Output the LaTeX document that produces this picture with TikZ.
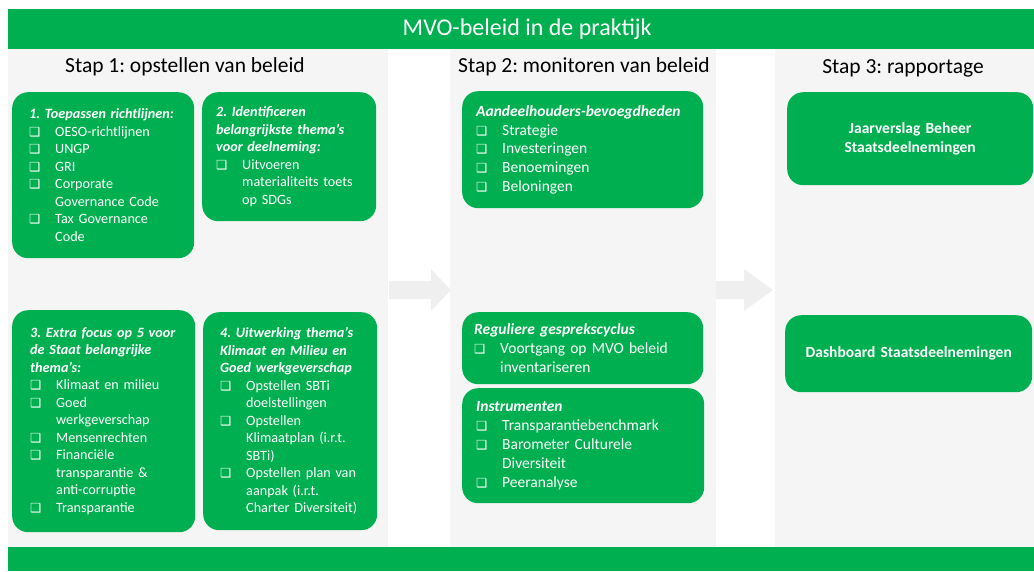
\documentclass[tikz,border=0pt]{standalone}
\usepackage{fontspec}
\setmainfont{Carlito}
\newfontfamily\symfont{DejaVu Sans}
\usetikzlibrary{positioning}
\frenchspacing

\definecolor{mvogreen}{RGB}{0,176,80}
\definecolor{panelgray}{RGB}{245,245,245}
\definecolor{arrowgray}{RGB}{239,239,239}

% item with a check box and a hanging indent
\newcommand{\chk}{\par\hangindent=26pt\hangafter=1\noindent\makebox[26pt][l]{{\symfont\fontsize{12.5}{10}\selectfont ❑}}}
\newcommand{\kop}[1]{{\bfseries\itshape #1}}

\begin{document}
\begin{tikzpicture}[x=1pt,y=-1pt,
  panel/.style={fill=panelgray, anchor=north west, inner sep=0pt},
  bar/.style={fill=mvogreen, anchor=north west, inner sep=0pt, text=white},
  stap/.style={font=\fontsize{21.5}{24}\selectfont},
  greenbox/.style={fill=mvogreen, rounded corners=16pt, anchor=north west, text=white,
    align=left, inner xsep=15pt, inner ysep=0pt, font=\fontsize{14.2}{17.5}\selectfont},
  widebox/.style={greenbox, font=\fontsize{15.5}{18.8}\selectfont},
  endbox/.style={greenbox, align=center, font=\bfseries\fontsize{15.5}{19}\selectfont}]
\useasboundingbox (0,0) rectangle (1034,571);

% bars and columns
\node[bar, minimum width=1026, minimum height=40] (title) at (8,9) {};
\node[font=\fontsize{24}{28}\selectfont, text=white] at ([xshift=6pt]title.center) {MVO-beleid in de praktijk};
\node[panel, minimum width=380, minimum height=498] (p1) at (8,49) {};
\node[panel, minimum width=266, minimum height=498] (p2) at (450,49) {};
\node[panel, minimum width=259, minimum height=498] (p3) at (775,49) {};
\node[bar, minimum width=1026, minimum height=24] (bottom) at (8,547) {};

% arrows between the steps
\fill[arrowgray] (389,281) -- (431,281) -- (431,269) -- (451,290) -- (431,311) -- (431,299) -- (389,299) -- cycle;
\fill[arrowgray] (716,281) -- (744,281) -- (744,269) -- (773,290) -- (744,311) -- (744,299) -- (716,299) -- cycle;

\node[stap] (kop1) at (185,67) {Stap 1: opstellen van beleid};
\node[stap] (kop2) at (584,67) {Stap 2: monitoren van beleid};
\node[stap] (kop3) at (903,68) {Stap 3: rapportage};

% stap 1
\node[greenbox, inner xsep=17pt, text width=148, minimum height=166] (richtlijnen) at (12,92) {%
\kop{1. Toepassen richtlijnen:}
\chk OESO-richtlijnen
\chk UNGP
\chk GRI
\chk Corporate\newline Governance Code
\chk Tax Governance\newline Code\par};
\node[greenbox, inner xsep=14pt, text width=146, minimum height=129] (themas) at (202,92) {%
\kop{2. Identificeren\newline belangrijkste thema’s\newline voor deelneming:}
\chk Uitvoeren\newline materialiteits toets\newline op SDGs\par};
\node[greenbox, inner xsep=18pt, text width=147, minimum height=222] (focus) at (12,310) {%
\kop{3. Extra focus op 5 voor\newline de Staat belangrijke\newline thema’s:}
\chk Klimaat en milieu
\chk Goed\newline werkgeverschap
\chk Mensenrechten
\chk Financiële\newline transparantie \&\newline anti-corruptie
\chk Transparantie\par};
\node[greenbox, inner xsep=17pt, text width=140, minimum height=218] (uitwerking) at (203,312) {%
\kop{4. Uitwerking thema’s\newline Klimaat en Milieu en\newline Goed werkgeverschap}
\chk Opstellen SBTi\newline doelstellingen
\chk Opstellen\newline Klimaatplan (i.r.t.\newline SBTi)
\chk Opstellen plan van\newline aanpak (i.r.t.\newline Charter Diversiteit)\par};

% stap 2
\node[widebox, inner xsep=14pt, text width=213, minimum height=117] (aandeelhouders) at (462,91) {%
\kop{Aandeelhouders-bevoegdheden}
\chk Strategie
\chk Investeringen
\chk Benoemingen
\chk Beloningen\par};
\node[widebox, inner xsep=12pt, text width=217, minimum height=72] (gesprek) at (462,312) {%
\kop{Reguliere gesprekscyclus}
\chk Voortgang op MVO beleid\newline inventariseren\par};
\node[widebox, inner xsep=14pt, text width=214, minimum height=115] (instrumenten) at (462,388) {%
\kop{Instrumenten}
\chk Transparantiebenchmark
\chk Barometer Culturele\newline Diversiteit
\chk Peeranalyse\par};

% stap 3
\node[endbox, text width=216, minimum height=93] (jaarverslag) at (787,92) {Jaarverslag Beheer\\Staatsdeelnemingen};
\node[endbox, text width=217, minimum height=77] (dashboard) at (785,315) {Dashboard Staatsdeelnemingen};
\end{tikzpicture}
\end{document}
